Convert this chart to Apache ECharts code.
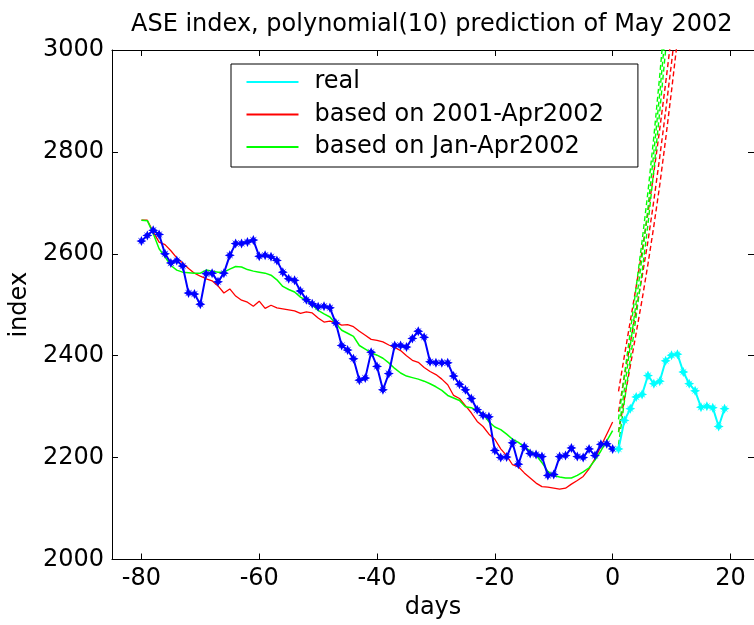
<!DOCTYPE html>
<html>
<head>
<meta charset="utf-8">
<script src="https://cdn.jsdelivr.net/npm/echarts@6/dist/echarts.min.js"></script>
<style>
html,body{margin:0;padding:0;background:#fff;}
#chart{width:754px;height:625px;}
</style>
</head>
<body>
<div id="chart"></div>
<script>
// ---- data ----
const pastDays = [-80,-79,-78,-77,-76,-75,-74,-73,-72,-71,-70,-69,-68,-67,-66,-65,-64,-63,-62,-61,
  -60,-59,-58,-57,-56,-55,-54,-53,-52,-51,-50,-49,-48,-47,-46,-45,-44,-43,-42,-41,
  -40,-39,-38,-37,-36,-35,-34,-33,-32,-31,-30,-29,-28,-27,-26,-25,-24,-23,-22,-21,
  -20,-19,-18,-17,-16,-15,-14,-13,-12,-11,-10,-9,-8,-7,-6,-5,-4,-3,-2,-1,0];
const pastIndex = [2625,2636,2646,2638,2600,2582,2587,2576,2523,2521,
  2501,2561,2562,2545,2562,2597,2620,2620,2623,2627,
  2595,2597,2594,2587,2564,2551,2548,2527,2510,2502,
  2496,2497,2494,2464,2420,2411,2394,2352,2356,2407,
  2379,2333,2365,2420,2420,2417,2434,2448,2436,2388,
  2386,2386,2386,2360,2344,2333,2316,2294,2283,2280,
  2214,2200,2201,2229,2187,2222,2208,2206,2202,2165,
  2167,2202,2204,2219,2202,2200,2217,2204,2226,2227,2217];
const fitLong = [2666,2666,2643,2623,2618,2606,2592,2582,2571,2562,
  2556,2551,2547,2537,2523,2531,2517,2509,2505,2497,
  2507,2493,2499,2494,2492,2490,2488,2483,2486,2484,
  2474,2466,2468,2465,2460,2461,2457,2448,2440,2432,
  2430,2427,2421,2416,2410,2400,2391,2387,2377,2369,
  2363,2354,2343,2322,2316,2302,2288,2271,2261,2246,
  2236,2217,2204,2186,2182,2170,2160,2150,2143,2142,
  2140,2138,2140,2148,2155,2163,2178,2198,2222,2246,2270];
const fitShort = [2666,2665,2640,2610,2594,2577,2568,2564,2563,2562,
  2562,2568,2566,2564,2564,2570,2575,2574,2569,2566,
  2564,2562,2558,2549,2536,2530,2525,2515,2508,2500,
  2489,2482,2476,2463,2450,2444,2438,2420,2413,2406,
  2401,2395,2386,2375,2366,2360,2357,2354,2350,2345,
  2339,2332,2322,2317,2312,2300,2298,2292,2286,2270,
  2260,2255,2246,2236,2230,2221,2213,2205,2190,2173,
  2165,2162,2160,2160,2165,2172,2180,2195,2213,2233,2253];
const realDays = [1,2,3,4,5,6,7,8,9,10,11,12,13,14,15,16,17,18,19];
const realIndex = [2217,2273,2296,2319,2324,2361,2345,2350,2390,2401,
  2403,2368,2345,2331,2299,2301,2298,2261,2296];
const predDays = [1,2,3,4,5,6,7,8,9,10,11];
const predLongA = [2330,2400,2468,2536,2606,2680,2760,2845,2935,3030];
const predLongB = [2290,2360,2425,2490,2555,2625,2705,2790,2880,2975,3075];
const predLongC = [2250,2315,2380,2445,2510,2580,2655,2735,2825,2920,3020];
const predShortA = [2275,2362,2447,2535,2625,2722,2830,2950,3080];
const predShortB = [2250,2335,2420,2505,2595,2690,2800,2915,3040];
const predShortC = [2225,2310,2393,2478,2565,2658,2765,2880,3000];
const xTicks = [-80,-60,-40,-20,0,20];
const yTicks = [2000,2200,2400,2600,2800,3000];
const legendNames = ['real','based on 2001-Apr2002','based on Jan-Apr2002'];

function pairs(xs, ys){ return ys.map((v,i)=>[xs[i], v]); }

const FONT = 'DejaVu Sans';
const starPath = 'path://M0,-10 L2.8,-4 L7,-7 L4,-2.8 L10,0 L4,2.8 L7,7 L2.8,4 L0,10 L-2.8,4 L-7,7 L-4,2.8 L-10,0 L-4,-2.8 L-7,-7 L-2.8,-4 Z';

function dashed(name, xs, ys, color){
  return {name:name, type:'line', data:pairs(xs, ys), showSymbol:false, symbol:'none',
    lineStyle:{color:color, width:1.4, type:[5,3]}, itemStyle:{color:color},
    z:2, silent:true, animation:false};
}

const chart = echarts.init(document.getElementById('chart'), null, {renderer:'canvas'});
const axisLineStyle = {color:'#000', width:1};
chart.setOption({
  animation:false,
  backgroundColor:'#fff',
  textStyle:{fontFamily:FONT, color:'#000'},
  title:{text:'ASE index, polynomial(10) prediction of May 2002', left:126, top:8,
    textStyle:{fontFamily:FONT, fontSize:24, fontWeight:'normal', color:'#000'}},
  grid:{left:111, right:0, top:50, bottom:65.5, containLabel:false},
  legend:{
    data:legendNames, orient:'vertical', left:231, top:64,
    padding:[6,34,8,15.5], itemGap:8.5, itemWidth:52, itemHeight:2, icon:'rect',
    backgroundColor:'#fff', borderColor:'#000', borderWidth:1, borderRadius:0,
    selectedMode:false,
    textStyle:{fontFamily:FONT, fontSize:24, color:'#000', lineHeight:24, padding:[0,0,0,11]}
  },
  xAxis:[
    {type:'value', min:-85, max:24, name:'days', nameLocation:'middle', nameGap:34,
     nameTextStyle:{fontFamily:FONT, fontSize:24, color:'#000'},
     axisLine:{show:true, onZero:false, lineStyle:axisLineStyle},
     axisTick:{show:true, inside:true, length:6, lineStyle:axisLineStyle, customValues:xTicks},
     axisLabel:{fontFamily:FONT, fontSize:24, color:'#000', margin:7, customValues:xTicks},
     splitLine:{show:false}},
    {type:'value', min:-85, max:24, position:'top',
     axisLine:{show:true, onZero:false, lineStyle:axisLineStyle},
     axisTick:{show:true, inside:true, length:6, lineStyle:axisLineStyle, customValues:xTicks},
     axisLabel:{show:false}, splitLine:{show:false}}
  ],
  yAxis:[
    {type:'value', min:2000, max:3000, interval:200, name:'index', nameLocation:'middle', nameGap:64,
     nameRotate:90,
     nameTextStyle:{fontFamily:FONT, fontSize:24, color:'#000'},
     axisLine:{show:true, onZero:false, lineStyle:axisLineStyle},
     axisTick:{show:true, inside:true, length:6, lineStyle:axisLineStyle},
     axisLabel:{fontFamily:FONT, fontSize:24, color:'#000', margin:8,
       formatter:function(v){ return yTicks.indexOf(v)>=0 ? String(v) : ''; }},
     splitLine:{show:false}},
    {type:'value', min:2000, max:3000, interval:200, position:'right',
     axisLine:{show:true, onZero:false, lineStyle:axisLineStyle},
     axisTick:{show:true, inside:true, length:6, lineStyle:axisLineStyle},
     axisLabel:{show:false}, splitLine:{show:false}}
  ],
  series:[
    dashed('pred long A', predDays, predLongA, '#ff0000'),
    dashed('pred long B', predDays, predLongB, '#ff0000'),
    dashed('pred long C', predDays, predLongC, '#ff0000'),
    dashed('pred short A', predDays, predShortA, '#00ff00'),
    dashed('pred short B', predDays, predShortB, '#00ff00'),
    dashed('pred short C', predDays, predShortC, '#00ff00'),
    {name:'based on 2001-Apr2002', type:'line', data:pairs(pastDays, fitLong), showSymbol:false, symbol:'none',
     lineStyle:{color:'#ff0000', width:1.3}, itemStyle:{color:'#ff0000'}, z:3},
    {name:'based on Jan-Apr2002', type:'line', data:pairs(pastDays, fitShort), showSymbol:false, symbol:'none',
     lineStyle:{color:'#00ff00', width:1.5}, itemStyle:{color:'#00ff00'}, z:3},
    {name:'ASE', type:'line', data:pairs(pastDays, pastIndex), symbol:starPath, symbolSize:10, showSymbol:true,
     lineStyle:{color:'#0000ff', width:2}, itemStyle:{color:'#0000ff'}, z:4},
    {name:'real', type:'line', data:pairs(realDays, realIndex), symbol:starPath, symbolSize:10, showSymbol:true,
     lineStyle:{color:'#00ffff', width:2}, itemStyle:{color:'#00ffff'}, z:4}
  ]
});
</script>
</body>
</html>
